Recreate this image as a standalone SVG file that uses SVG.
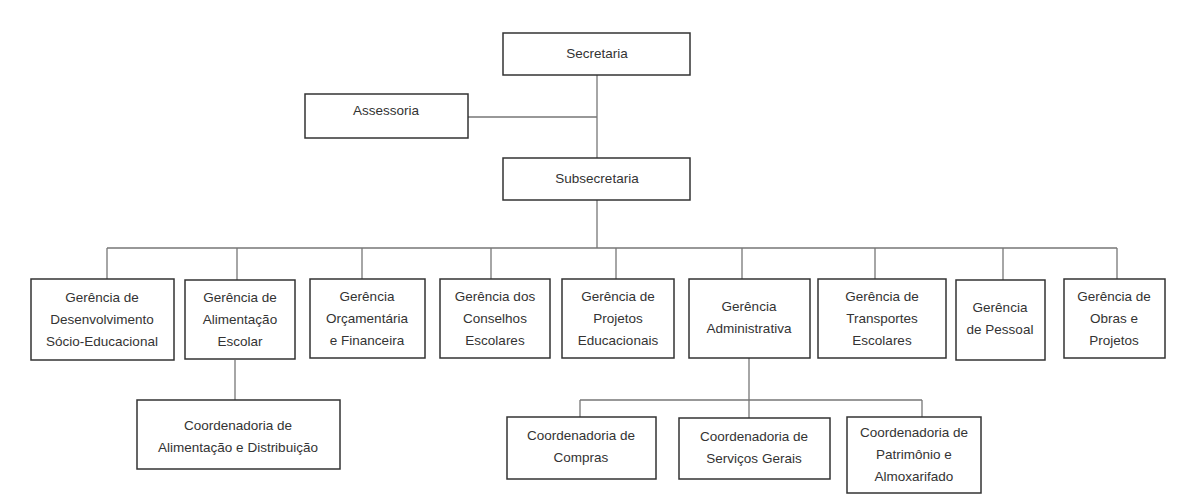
<svg xmlns="http://www.w3.org/2000/svg" width="1184" height="500" viewBox="0 0 1184 500">
<style>
rect{fill:#fff;stroke:#333;stroke-width:1.5}
text{font-family:"Liberation Sans",Arial,sans-serif;font-size:13.5px;fill:#333;text-anchor:middle}
#connectors path{fill:none;stroke:#777;stroke-width:1.3}
</style>
<rect x="0" y="0" width="1184" height="500" style="stroke:none"/>
<g id="connectors">
<path d="M597 75V248M597 117H468M107 248H1117M107 248V279M237 248V280M362 248V279M491 248V279M616 248V279M742 248V279M875 248V279M1003 248V280M1117 248V279M235 360V400M749 358V400M580 400H922M580 400V417M749 400V418M922 400V417"/>
</g>
<g id="secretaria"><rect x="503" y="33" width="187" height="42"/><text x="597" y="58">Secretaria</text></g>
<g id="assessoria"><rect x="305" y="94" width="163" height="44"/><text x="386" y="115">Assessoria</text></g>
<g id="subsecretaria"><rect x="503" y="158" width="187" height="42"/><text x="597" y="183">Subsecretaria</text></g>
<g id="g1"><rect x="31" y="279" width="143" height="81"/><text x="102" y="302">Gerência de</text><text x="102" y="324">Desenvolvimento</text><text x="102" y="346">Sócio-Educacional</text></g>
<g id="g2"><rect x="185" y="280" width="110" height="79"/><text x="240" y="302">Gerência de</text><text x="240" y="324">Alimentação</text><text x="240" y="346">Escolar</text></g>
<g id="g3"><rect x="310" y="279" width="115" height="79"/><text x="367" y="301">Gerência</text><text x="367" y="323">Orçamentária</text><text x="367" y="345">e Financeira</text></g>
<g id="g4"><rect x="440" y="279" width="110" height="79"/><text x="495" y="301">Gerência dos</text><text x="495" y="323">Conselhos</text><text x="495" y="345">Escolares</text></g>
<g id="g5"><rect x="562" y="279" width="112" height="79"/><text x="618" y="301">Gerência de</text><text x="618" y="323">Projetos</text><text x="618" y="345">Educacionais</text></g>
<g id="g6"><rect x="689" y="279" width="121" height="79"/><text x="749" y="311">Gerência</text><text x="749" y="333">Administrativa</text></g>
<g id="g7"><rect x="818" y="279" width="128" height="79"/><text x="882" y="301">Gerência de</text><text x="882" y="323">Transportes</text><text x="882" y="345">Escolares</text></g>
<g id="g8"><rect x="956" y="280" width="89" height="80"/><text x="1000" y="312">Gerência</text><text x="1000" y="334">de Pessoal</text></g>
<g id="g9"><rect x="1064" y="279" width="101" height="79"/><text x="1114" y="301">Gerência de</text><text x="1114" y="323">Obras e</text><text x="1114" y="345">Projetos</text></g>
<g id="c1"><rect x="137" y="400" width="203" height="69"/><text x="238" y="430">Coordenadoria de</text><text x="238" y="452">Alimentação e Distribuição</text></g>
<g id="c2"><rect x="507" y="417" width="149" height="62"/><text x="581" y="440">Coordenadoria de</text><text x="581" y="462">Compras</text></g>
<g id="c3"><rect x="679" y="418" width="151" height="61"/><text x="754" y="441">Coordenadoria de</text><text x="754" y="463">Serviços Gerais</text></g>
<g id="c4"><rect x="847" y="417" width="134" height="76"/><text x="914" y="437">Coordenadoria de</text><text x="914" y="459">Patrimônio e</text><text x="914" y="481">Almoxarifado</text></g>
</svg>
